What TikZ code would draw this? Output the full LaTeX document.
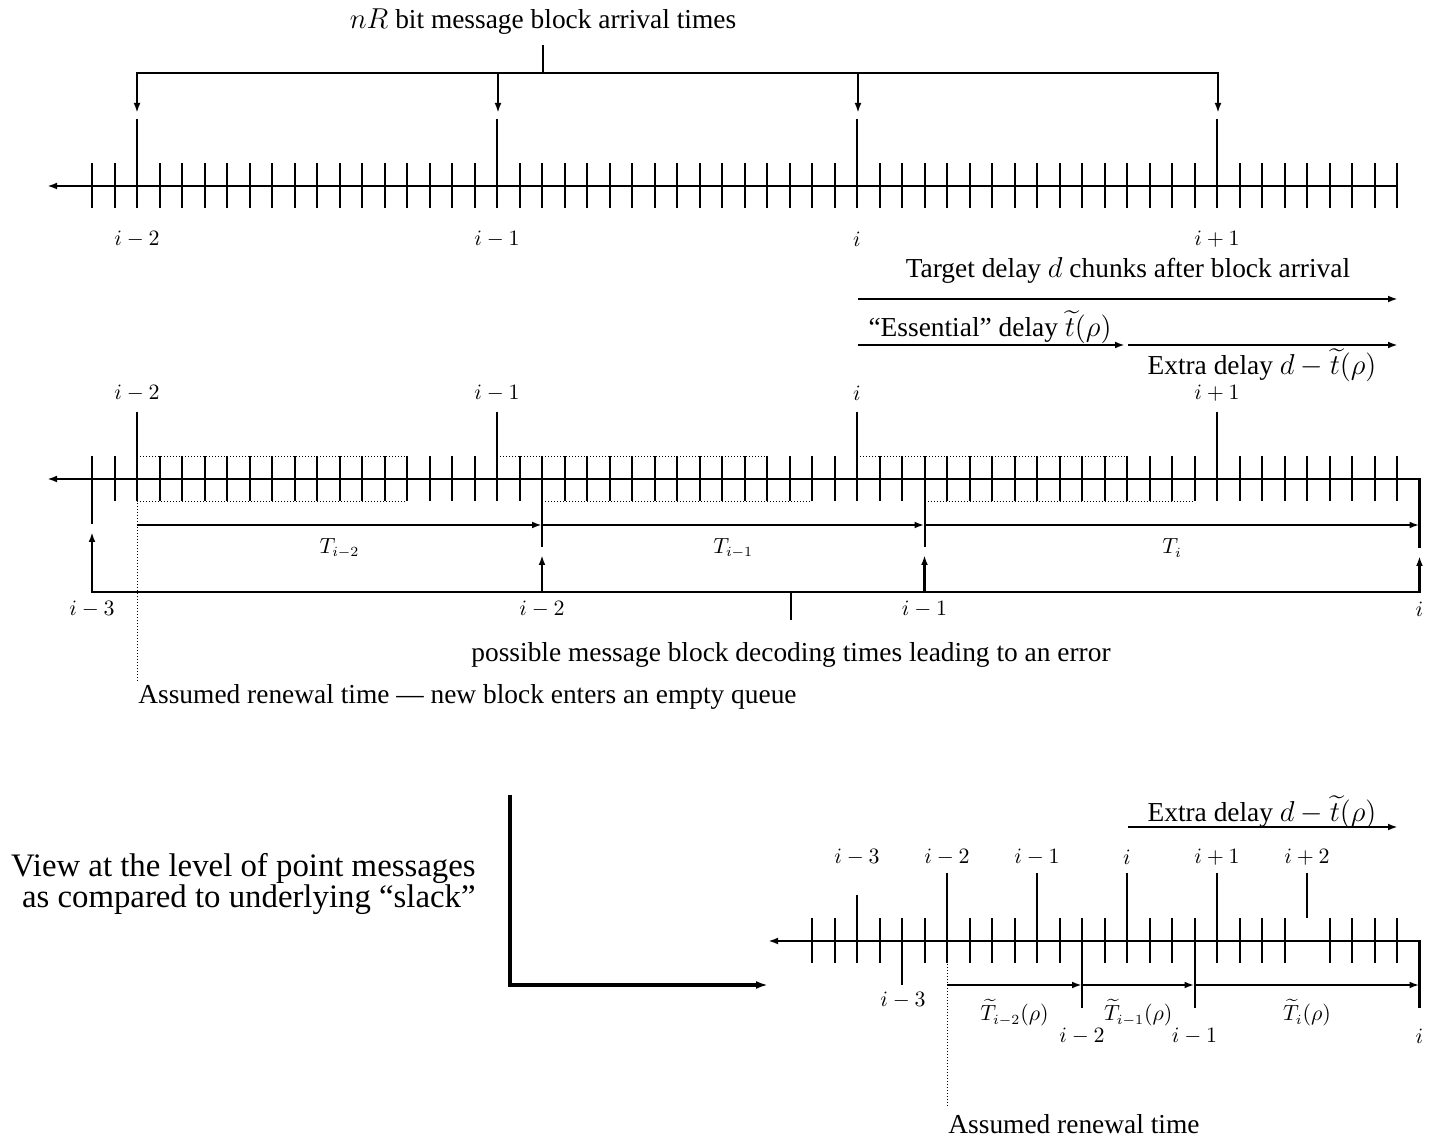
\documentclass[tikz,border=0pt]{standalone}
\usepackage{amsmath}
\usepackage{amssymb}
\usepackage{fontspec}
\setmainfont{Liberation Serif}
\usetikzlibrary{arrows.meta}

\tikzset{
  axisline/.style={line width=1.1pt},
  chunk/.style={line width=1pt},
  tiparrow/.style={line width=1pt, -{Latex[length=5pt,width=3.4pt]}},
  slack/.style={densely dotted, line width=0.5pt},
  lbl/.style={inner sep=1pt, font=\fontsize{10.6}{12}\selectfont},
  txt/.style={inner sep=0pt, font=\fontsize{13.7}{16}\selectfont},
  bigtxt/.style={inner sep=1pt, align=right, font=\fontsize{16.4}{14}\selectfont},
}

\begin{document}
\begin{tikzpicture}[x=0.5pt,y=-0.5pt]
\useasboundingbox (0,0) rectangle (1432,1138);

% ---- top: block arrivals
\node[txt] (arrivals) at (543,22) {$nR$ bit message block arrival times};
\coordinate (fork) at (543,73);
\draw[axisline] (543,45) -- (fork);
\draw[tiparrow, line width=1.1pt] (fork) -| (137,113);
\draw[tiparrow, line width=1.1pt] (fork) -| (1218,113);
\draw[tiparrow, line width=1.1pt] (498,73) -- (498,113);
\draw[tiparrow, line width=1.1pt] (858,73) -- (858,113);

\draw[axisline, -{Latex[length=5pt,width=3.4pt]}] (1397,186) -- (47,186);
\foreach \k in {0,...,58}
  \draw[chunk] ({92+22.5*\k},163.5) -- ({92+22.5*\k},208.5);
\foreach \k/\name in {2/{i-2},18/{i-1},34/i,50/{i+1}} {
  \draw[chunk] ({92+22.5*\k},119) -- ({92+22.5*\k},208.5);
  \node[lbl] (topl\k) at ({92+22.5*\k},239) {$\name$};
}

% ---- delay budget
\node[txt] (target) at (1128,270) {Target delay $d$ chunks after block arrival};
\coordinate (da) at (858,299);
\coordinate (db) at (1398,299);
\draw[tiparrow] (da) -- (db);
\node[txt] (essential) at (990,327) {“Essential” delay $\widetilde{t}(\rho)$};
\coordinate (ea) at (858,345);
\coordinate (eb) at (1125,345);
\coordinate (ec) at (1128,345);
\coordinate (ed) at (1398,345);
\draw[tiparrow] (ea) -- (eb);
\draw[tiparrow] (ec) -- (ed);
\node[txt] (extra) at (1262,365) {Extra delay $d-\widetilde{t}(\rho)$};

% ---- middle: blocks and decoding
\draw[axisline, -{Latex[length=5pt,width=3.4pt]}] (1419.5,548) -- (1419.5,479) -- (47,479);
\foreach \k in {0,...,58}
  \draw[chunk] ({92+22.5*\k},456.5) -- ({92+22.5*\k},501.5);
\foreach \k/\name in {2/{i-2},18/{i-1},34/i,50/{i+1}} {
  \draw[chunk] ({92+22.5*\k},412) -- ({92+22.5*\k},501.5);
  \node[lbl] (midl\k) at ({92+22.5*\k},393) {$\name$};
}
\draw[chunk] (92,456.5) -- (92,524);
\draw[chunk] (542,456.5) -- (542,547);
\draw[chunk] (924.5,456.5) -- (924.5,547);
% dotted slack bands
\foreach \a/\b in {2/14,18/30,34/46}
  \draw[slack] ({92+22.5*\a},456.5) -- ({92+22.5*\b},456.5);
\foreach \a/\b in {2/14,20/32,37/49}
  \draw[slack] ({92+22.5*\a},501.5) -- ({92+22.5*\b},501.5);

\coordinate (d0) at (137,525);
\coordinate (d1) at (542,525);
\coordinate (d2) at (924.5,525);
\coordinate (d3) at (1419.5,525);
\draw[tiparrow] (d0) -- node[lbl, yshift=-11.5pt] (Tim2) {$T_{i-2}$} (d1);
\draw[tiparrow] (d1) -- node[lbl, yshift=-11.5pt] (Tim1) {$T_{i-1}$} (d2);
\draw[tiparrow] (d2) -- node[lbl, yshift=-11.5pt] (Ti) {$T_{i}$} (d3);

\coordinate (errfork) at (791,592);
\draw[tiparrow, line width=1.1pt] (errfork) -| (92,532);
\draw[tiparrow, line width=1.1pt] (errfork) -| (1419.5,556);
\draw[tiparrow, line width=1.1pt] (542,592) -- (542,555);
\draw[tiparrow, line width=1.1pt] (924.5,592) -- (924.5,555);
\draw[axisline] (errfork) -- (791,620);
\node[lbl] (dec3) at (92,609) {$i-3$};
\node[lbl] (dec2) at (542,609) {$i-2$};
\node[lbl] (dec1) at (924.5,609) {$i-1$};
\node[lbl] (dec0) at (1419.5,609) {$i$};
\node[txt] (errnote) at (791,655) {possible message block decoding times leading to an error};

\draw[slack] (137,503) -- (137,683);
\node[txt, anchor=west] (renewal) at (138,697) {Assumed renewal time — new block enters an empty queue};

% ---- bottom: point messages
\node[bigtxt, anchor=east] (view) at (478,884) {View at the level of point messages\\as compared to underlying “slack”};
\draw[line width=1.7pt, -{Latex[length=6pt,width=4pt]}] (510,795) -- (510,985) -- (768,985);

\node[txt] (extra2) at (1262,812) {Extra delay $d-\widetilde{t}(\rho)$};
\coordinate (xa) at (1128,827);
\coordinate (xb) at (1398,827);
\draw[tiparrow] (xa) -- (xb);

\draw[axisline, -{Latex[length=5pt,width=3.4pt]}] (1419.5,1008) -- (1419.5,941) -- (768,941);
\foreach \k in {32,...,53,55,56,57,58}
  \draw[chunk] ({92+22.5*\k},918.5) -- ({92+22.5*\k},963.5);
\draw[chunk] ({92+22.5*34},895) -- ({92+22.5*34},963.5);
\draw[chunk] ({92+22.5*54},873) -- ({92+22.5*54},918.5);
\foreach \k in {38,42,46,50}
  \draw[chunk] ({92+22.5*\k},873) -- ({92+22.5*\k},963.5);
\foreach \k/\name in {34/{i-3},38/{i-2},42/{i-1},46/i,50/{i+1},54/{i+2}}
  \node[lbl] (botl\k) at ({92+22.5*\k},857) {$\name$};
\draw[chunk] ({92+22.5*36},918.5) -- ({92+22.5*36},985);
\draw[chunk] ({92+22.5*44},918.5) -- ({92+22.5*44},1008);
\draw[chunk] ({92+22.5*49},918.5) -- ({92+22.5*49},1008);

\coordinate (p0) at (947,985);
\coordinate (p1) at (1082,985);
\coordinate (p2) at (1194.5,985);
\coordinate (p3) at (1419.5,985);
\draw[tiparrow] (p0) -- node[lbl, yshift=-14pt] (Tt2) {$\widetilde{T}_{i-2}(\rho)$} (p1);
\draw[tiparrow] (p1) -- node[lbl, yshift=-14pt] (Tt1) {$\widetilde{T}_{i-1}(\rho)$} (p2);
\draw[tiparrow] (p2) -- node[lbl, yshift=-14pt] (Tt0) {$\widetilde{T}_{i}(\rho)$} (p3);
\node[lbl] (bdec3) at (903,1000) {$i-3$};
\node[lbl] (bdec2) at (1082,1036) {$i-2$};
\node[lbl] (bdec1) at (1194.5,1036) {$i-1$};
\node[lbl] (bdec0) at (1419.5,1036) {$i$};

\draw[slack] (947,964) -- (947,1108);
\node[txt, anchor=west] (renewal2) at (948,1124) {Assumed renewal time};
\end{tikzpicture}
\end{document}
